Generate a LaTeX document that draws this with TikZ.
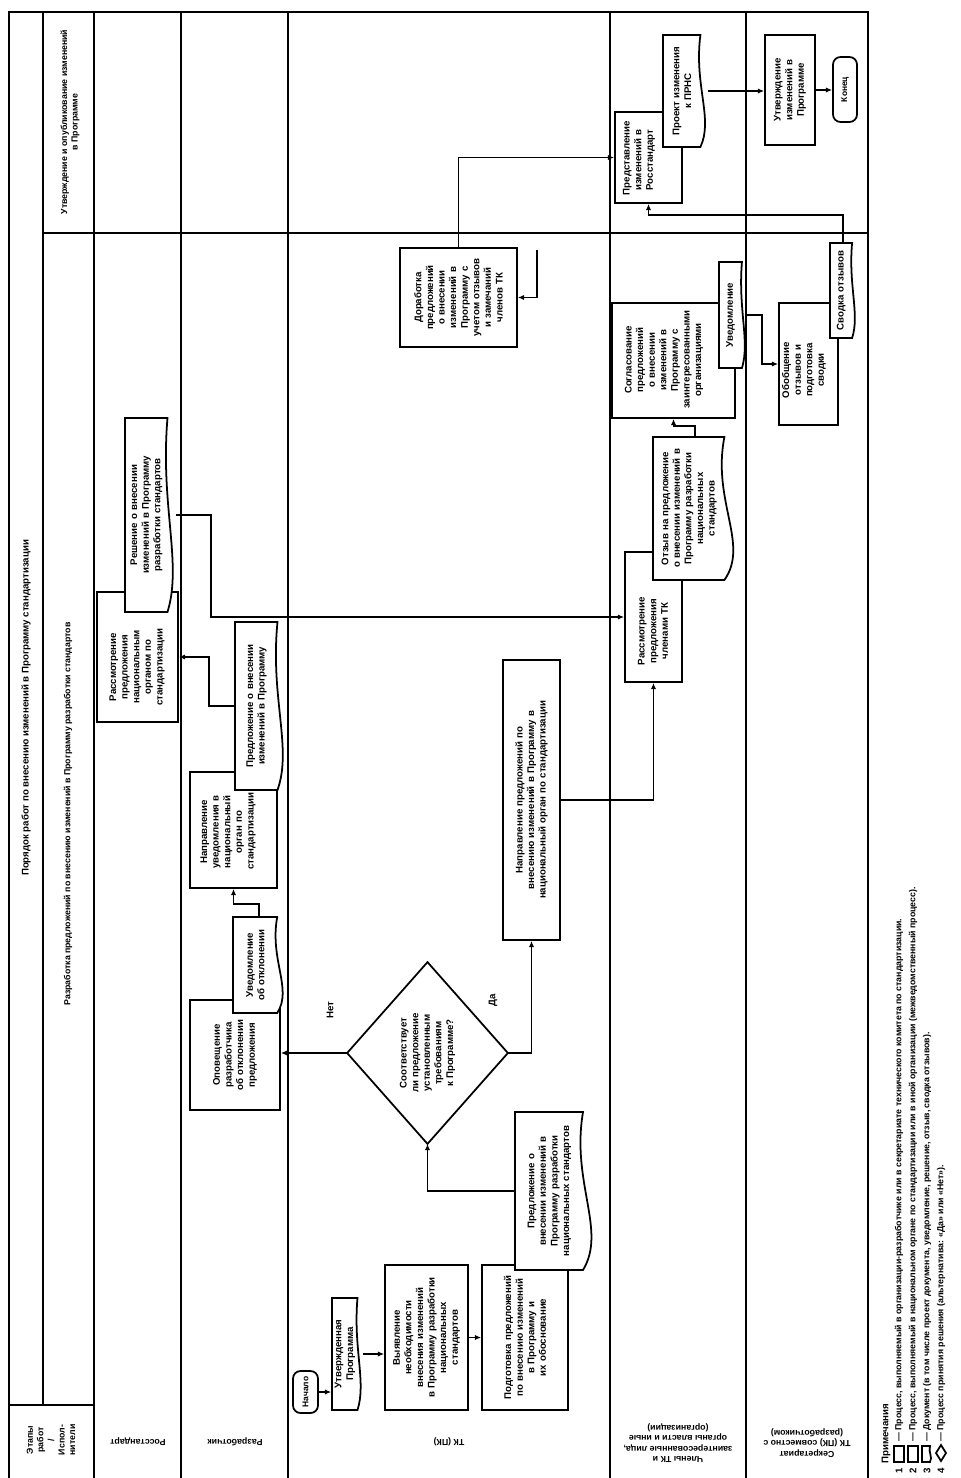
\documentclass[tikz,border=0pt]{standalone}
\usepackage{fontspec}
\setmainfont{Liberation Sans}
\usetikzlibrary{positioning,fit,arrows.meta}

\newcommand{\procbox}[6][]{%
  \node[area, draw, fill=white, fit={(#3,#4)(#5,#6)}] (#2) {};
  \pgfmathsetlengthmacro{\tw}{0.17mm*(#6-#4)}
  \node[boxtext, text width=\tw, at=(#2.center), #1] (#2-t) {\csname txt@#2\endcsname};
}
\newcommand{\docbox}[6]{%
  \node[area, fit={(#2,#3)(#4,#5)}] (#1) {};
  \draw[conn, fill=white] (#2,#3) -- ({#4-0.15*(#4-#2)},#3)
    .. controls ({#4-0.3*(#4-#2)},{#3+0.45*(#5-#3)}) and ({#4+0.15*(#4-#2)},{#3+0.75*(#5-#3)})
    .. ({#4-0.15*(#4-#2)},#5) -- (#2,#5) -- cycle;
  \pgfmathsetlengthmacro{\tw}{0.17mm*(#5-#3)}
  \node[boxtext, text width=\tw] (#1-t) at ({(#2+#4)/2-0.07*(#4-#2)},{(#3+#5)/2}) {#6};
}
\newcommand{\termbox}[6]{%
  \node[area, draw, fill=white, rounded corners=1.5mm, fit={(#2,#3)(#4,#5)}] (#1) {};
  \node[boxtext, font=\fontsize{4.8}{6}\selectfont\bfseries] (#1-t) at (#1.center) {#6};
}
\newcommand{\boxtxt}[2]{\expandafter\def\csname txt@#1\endcsname{#2}}

\boxtxt{ident}{Выявление необходимости внесения изменений в Программу разработки национальных стандартов}
\boxtxt{prep}{Подготовка предложений по внесению изменений в Программу и их обоснование}
\boxtxt{reject}{Оповещение разработчика об отклонении предложения}
\boxtxt{send}{Направление уведомления в национальный орган по стандартизации}
\boxtxt{rosbox}{Рассмотрение предложения национальным органом по стандартизации}
\boxtxt{tkprop}{Направление предложений по внесению изменений в Программу в национальный орган по стандартизации}
\boxtxt{review}{Рассмотрение предложения членами ТК}
\boxtxt{agree}{Согласование предложений о внесении изменений в Программу с заинтересованными организациями}
\boxtxt{summary}{Обобщение отзывов и подготовка сводки}
\boxtxt{rework}{Доработка предложений о внесении изменений в Программу с учетом отзывов и замечаний членов ТК}
\boxtxt{submit}{Представление изменений в Росстандарт}
\boxtxt{approve}{Утверждение изменений в Программе}

\begin{document}
\begin{tikzpicture}[x=0.2mm, y=-0.2mm,
  area/.style={inner sep=0pt, line width=1pt},
  conn/.style={line width=1pt},
  boxtext/.style={rotate=90, align=center, inner sep=0pt, font=\fontsize{5.5}{6.6}\selectfont\bfseries},
  lanetext/.style={rotate=180, align=center, inner sep=0pt, font=\fontsize{5}{6}\selectfont\bfseries},
  lane/.style={line width=1.3pt},
  arr/.style={line width=1pt, -{Latex[length=3.5pt,width=3pt]}}]

\useasboundingbox (0,0) rectangle (961,1478);

\draw[lane] (9,1478) -- (9,12) -- (868,12) -- (868,1478);
\foreach \x in {94,181,288,610,746} \draw[lane] (\x,12) -- (\x,1478);
\draw[lane] (43,12) -- (43,1405);
\draw[lane] (9,1405) -- (94,1405);
\draw[lane] (43,233) -- (868,233);

\node[boxtext] (title) at (26,708) {Порядок работ по внесению изменений в Программу стандартизации};
\node[boxtext, font=\fontsize{5}{6}\selectfont\bfseries] (stage1) at (68,814) {Разработка предложений по внесению изменений в Программу разработки стандартов};
\node[boxtext, font=\fontsize{5}{6}\selectfont\bfseries] (stage2) at (70,122) {Утверждение и опубликование изменений\\в Программе};
\node[boxtext, font=\fontsize{5}{6}\selectfont\bfseries] (head) at (51,1440) {Этапы\\работ\\/\\Испол-\\нители};

\node[lanetext] (ros) at (138,1442) {Росстандарт};
\node[lanetext] (dev) at (235,1442) {Разработчик};
\node[lanetext] (tk) at (449,1442) {ТК (ПК)};
\node[lanetext] (mem) at (678,1443) {Члены ТК и\\заинтересованные лица,\\органы власти и иные\\(организации)};
\node[lanetext] (sec) at (807,1443) {Секретариат\\ТК (ПК) совместно с\\(разработчиком)};

\termbox{start}{293}{1371}{318}{1413}{Начало}
\docbox{plan}{332}{1298}{362}{1410}{Утвержденная\\Программа}
\procbox{ident}{385}{1265}{468}{1410}
\procbox{prep}{482}{1265}{568}{1410}
\docbox{offer}{515}{1112}{595}{1270}{Предложение о внесении изменений в Программу разработки национальных стандартов}

\node[area, fit={(348,963)(507,1143)}] (check) {};
\draw[conn, fill=white] (check.north) -- (check.east) -- (check.south) -- (check.west) -- cycle;
\node[boxtext, text width=20mm] (check-t) at (check.center) {Соответствует ли предложение установленным требованиям к Программе?};
\node[boxtext] (no) at (330,1010) {Нет};
\node[boxtext] (yes) at (493,1000) {Да};

\procbox{reject}{190}{1000}{280}{1110}
\docbox{rejdoc}{233}{917}{285}{1013}{Уведомление об отклонении}
\procbox[at={(228,832)}, text width=15mm]{send}{190}{772}{277}{888}
\docbox{senddoc}{235}{622}{285}{790}{Предложение о внесении изменений в Программу}
\procbox[at={(137,667)}, text width=18mm]{rosbox}{97}{592}{178}{722}
\docbox{rosdoc}{125}{418}{175}{612}{Решение о внесении изменений в Программу разработки стандартов}
\procbox{tkprop}{503}{660}{560}{940}
\procbox[at={(653,631)}, text width=17mm]{review}{625}{552}{682}{682}
\docbox{revdoc}{653}{437}{737}{580}{Отзыв на предложение о внесении изменений в Программу разработки национальных стандартов}
\procbox[at={(664,360)}]{agree}{612}{303}{735}{418}
\docbox{notify}{719}{262}{746}{368}{Уведомление}
\procbox[at={(804,370)}, text width=17mm]{summary}{779}{303}{838}{425}
\docbox{sumdoc}{830}{243}{856}{338}{Сводка отзывов}
\procbox{rework}{400}{248}{517}{347}
\procbox[at={(639,160)}, text width=14mm]{submit}{615}{112}{682}{203}
\docbox{subdoc}{663}{35}{707}{147}{Проект изменения к ПРНС}
\procbox{approve}{765}{35}{815}{145}
\termbox{finish}{833}{57}{857}{122}{Конец}

\draw[arr] (start.east) -- (start.east -| plan.west);
\draw[arr] (plan.east) -- (plan.east -| ident.west);
\draw[arr] (ident.east) -- (ident.east -| prep.west);
\draw[arr] (offer.west) -| (check.south);
\draw[arr] (check.west) -- (check.west -| reject.east);
\draw[arr] (check.east) -| (tkprop.south);
\draw[arr] (rejdoc.north) -- ++(0,-12) -| (send.south);
\draw[arr] (senddoc.west) -- ++(-25,0) |- (rosbox.east);
\draw[arr] (rosdoc.east) -- ++(35,0) |- (review.west);
\draw[arr] (tkprop.east) -| (review.south);
\draw[arr] (revdoc.north) -- ++(0,-10) -| (agree.south);
\draw[arr] (notify.east) -- ++(15,0) |- (summary.west);
\draw[arr] (sumdoc.north) -- ++(0,-27) -| (submit.south);
\draw[arr] (rework.north) |- (submit.west);
\coordinate (feed) at (537,250);
\draw[arr] (feed) |- (rework.east);
\draw[arr] (subdoc.east) -- (subdoc.east -| approve.west);
\draw[arr] (approve.east) -- (approve.east -| finish.west);

\node[boxtext, anchor=west] (notes) at (886,1464) {Примечания};
\node[boxtext] (n1) at (899,1471) {1};
\node[boxtext] (n2) at (913,1471) {2};
\node[boxtext] (n3) at (927,1471) {3};
\node[boxtext] (n4) at (941,1471) {4};
\draw[conn] (894,1446) rectangle (904,1462);
\draw[conn] (908,1446) rectangle (918,1462);
\draw[conn] (922,1462) -- (922,1446) -- (930,1446) .. controls (928,1452) and (933,1457) .. (930,1462) -- cycle;
\draw[conn] (941,1445) -- (946,1453) -- (941,1461) -- (936,1453) -- cycle;
\node[boxtext, anchor=west, font=\fontsize{5}{6}\selectfont\bfseries] (l1) at (899,1442) {— Процесс, выполняемый в организации-разработчике или в секретариате технического комитета по стандартизации.};
\node[boxtext, anchor=west, font=\fontsize{5}{6}\selectfont\bfseries] (l2) at (913,1442) {— Процесс, выполняемый в национальном органе по стандартизации или в иной организации (межведомственный процесс).};
\node[boxtext, anchor=west, font=\fontsize{5}{6}\selectfont\bfseries] (l3) at (927,1442) {— Документ (в том числе проект документа, уведомление, решение, отзыв, сводка отзывов).};
\node[boxtext, anchor=west, font=\fontsize{5}{6}\selectfont\bfseries] (l4) at (941,1442) {— Процесс принятия решения (альтернатива: «Да» или «Нет»).};
\end{tikzpicture}
\end{document}
